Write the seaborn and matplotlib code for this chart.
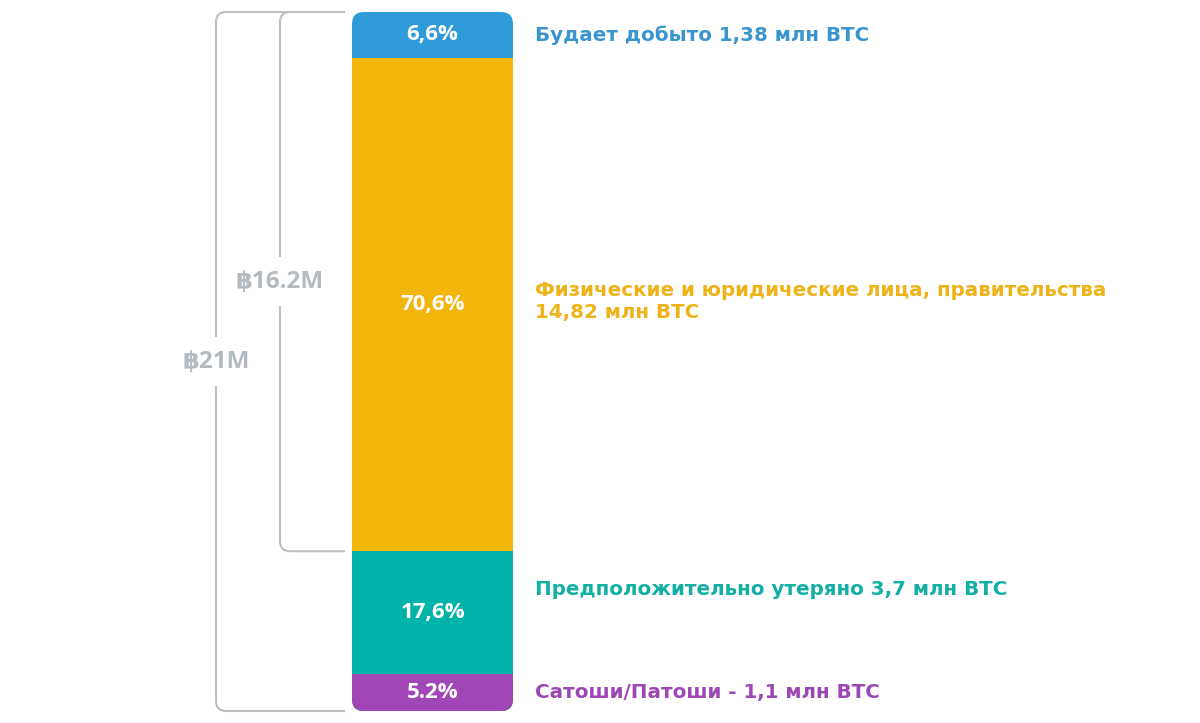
import matplotlib.pyplot as plt
import seaborn as sns
from matplotlib.patches import FancyBboxPatch, Rectangle

# segments from bottom to top
segments = ["Сатоши/Патоши", "Утеряно", "Физ. и юр. лица", "Будет добыто"]
btc_mln = [1.1, 3.7, 14.82, 1.38]
pct_labels = ["5.2%", "17,6%", "70,6%", "6,6%"]
side_labels = [
    "Сатоши/Патоши - 1,1 млн BTC",
    "Предположительно утеряно 3,7 млн BTC",
    "Физические и юридические лица, правительства\n14,82 млн BTC",
    "Будает добыто 1,38 млн BTC",
]
bar_colors = ["#a046b6", "#02b3a9", "#f2b60d", "#2f9bd9"]
text_colors = ["#9c48b4", "#12b0a4", "#efb31a", "#3a95cf"]
bracket_labels = ["฿21M", "฿16.2M"]

sns.set_theme(style="white")
plt.rcParams["font.family"] = ["Open Sans", "DejaVu Sans"]

W, H = 1200, 723
fig = plt.figure(figsize=(12, 7.23), dpi=100)
ax = fig.add_axes([0, 0, 1, 1])

total = sum(btc_mln)
cum = []
s = 0
for v in btc_mln:
    s += v
    cum.append(s)

# pixel layout of the bar
bar_l, bar_r, bar_t, bar_b = 352, 513, 12, 711
xscale = (bar_r - bar_l) / 0.8          # px per x unit (bar width 0.8)
yscale = (bar_b - bar_t) / total        # px per btc
xc = (bar_l + bar_r) / 2


def px2x(p):
    return (p - xc) / xscale


def py2y(p):
    return (bar_b - p) / yscale


# overlapping cumulative bars -> stacked look
for i in reversed(range(len(btc_mln))):
    sns.barplot(x=["btc"], y=[cum[i]], color=bar_colors[i], saturation=1,
                width=0.8, ax=ax, linewidth=0)

ax.set_xlim(px2x(0), px2x(W))
ax.set_ylim(py2y(H), py2y(0))
ax.axis("off")

# rounded outline for the whole bar
r = 12
aspect = xscale / yscale
rounded = FancyBboxPatch((-0.4, 0), 0.8, total,
                         boxstyle=f"round,pad=0,rounding_size={r / xscale}",
                         mutation_aspect=aspect, transform=ax.transData,
                         fill=False, lw=0)
ax.add_patch(rounded)
for p in ax.patches:
    if p is not rounded:
        p.set_clip_path(rounded)

# percentage labels inside the bar
bottoms = [0] + cum[:-1]
for b, v, lab in zip(bottoms, btc_mln, pct_labels):
    ax.text(0, b + v / 2, lab, ha="center", va="center", color="white",
            fontsize=16, fontweight="bold")

# side labels
offsets = [0, 0.7, 0.1, 0]
for b, v, lab, c, off in zip(bottoms, btc_mln, side_labels, text_colors, offsets):
    ax.text(px2x(535), b + v / 2 + off, lab, ha="left", va="center", color=c,
            fontsize=14.3, fontweight="bold", family=["DejaVu Sans"],
            linespacing=1.2)

# brackets on the left
clip = Rectangle((px2x(0), -5), px2x(345) - px2x(0), total + 10,
                 transform=ax.transData)
gray = "#bcc1c5"
brackets = [(216, 0, total, bracket_labels[0]),
            (280, cum[1], total, bracket_labels[1])]
for xpx, y0, y1, lab in brackets:
    br = FancyBboxPatch((px2x(xpx), y0), px2x(xpx + 300) - px2x(xpx), y1 - y0,
                        boxstyle=f"round,pad=0,rounding_size={10 / xscale}",
                        mutation_aspect=aspect, transform=ax.transData,
                        fill=False, edgecolor=gray, lw=1.5)
    ax.add_patch(br)
    br.set_clip_path(clip)
    ax.text(px2x(xpx), (y0 + y1) / 2, lab, ha="center", va="center",
            color="#b3bbc1", fontsize=17.5, fontweight="bold",
            bbox=dict(facecolor="white", edgecolor="none", pad=9))

fig.savefig("out.png", dpi=100)
